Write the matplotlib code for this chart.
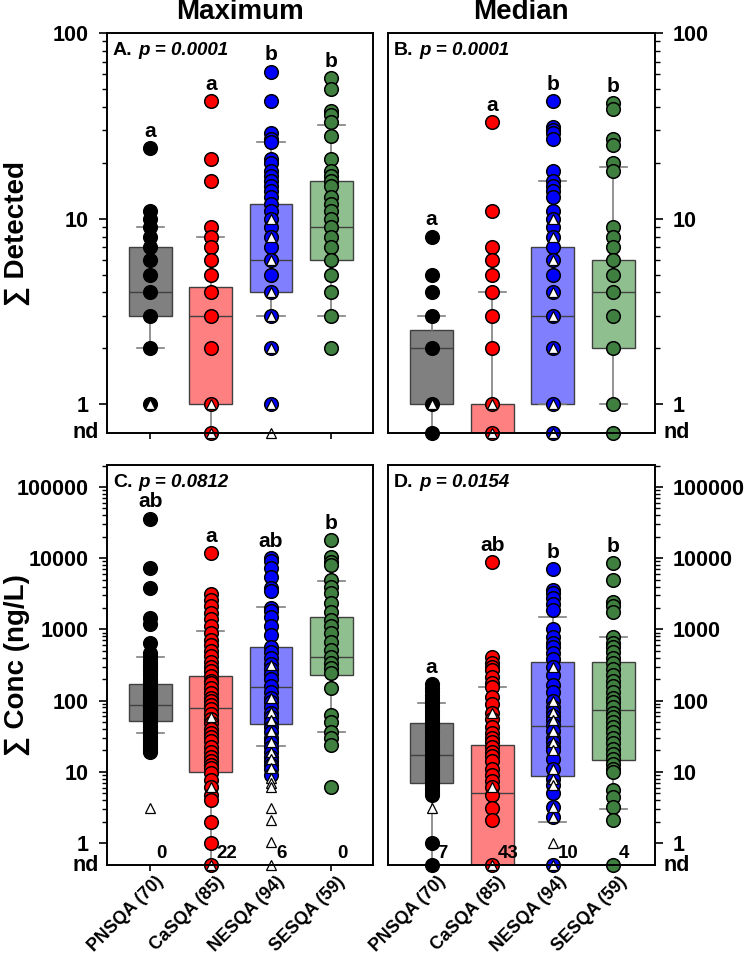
import matplotlib
matplotlib.use('Agg')
import matplotlib.pyplot as plt
import matplotlib.transforms as mtransforms

plt.rcParams['font.family'] = ['Liberation Sans', 'DejaVu Sans']
plt.rcParams['font.weight'] = 'bold'

# ---------------- data (0 = not detected, "nd") ----------------
groups = ['PNSQA (70)', 'CaSQA (85)', 'NESQA (94)', 'SESQA (59)']
circle_colors = ['#000000', '#FF0000', '#0000FF', '#3F7F3F']
box_colors = ['#808080', '#FF8080', '#8080FF', '#8FBF8F']

# Panel A: Maximum, Sum detected
A_pn = [24, 11, 10, 9, 8, 7, 6, 5, 4, 3, 2, 1]
A_ca = [43, 21, 16, 9, 8, 7, 6, 5, 4, 3, 2, 1, 0]
A_ne = [62, 43, 29, 27, 26, 21, 20, 18, 17, 16, 15, 14, 13, 12, 11, 10, 9, 8, 7, 6, 5, 4, 3, 2, 1]
A_se = [57, 50, 38, 36, 33, 28, 21, 18, 17, 16, 15, 13, 12, 11, 10, 9, 8, 7, 6, 5, 4, 3, 2]
A_tri_pn = [1]
A_tri_ca = [1, 0]
A_tri_ne = [10, 8, 6, 4, 3, 2, 1, 0]
A_tri_se = []
# box stats: whislo, q1, med, q3, whishi
A_box_pn = [2, 3, 4, 7, 9]
A_box_ca = [0, 1, 3, 4.3, 8]
A_box_ne = [3, 4, 6, 12, 26]
A_box_se = [3, 6, 9, 16, 32]
A_letters = ['a', 'a', 'b', 'b']
A_p = '0.0001'

# Panel B: Median, Sum detected
B_pn = [8, 5, 4, 3, 2, 1, 0]
B_ca = [33, 11, 7, 6, 5, 4, 3, 2, 1, 0]
B_ne = [43, 31, 30, 29, 27, 18, 16, 15, 14, 13, 11, 10, 9, 8, 7, 6, 5, 4, 3, 2, 1, 0]
B_se = [42, 39, 27, 25, 20, 18, 9, 8, 7, 6, 5, 4, 3, 2, 1, 0]
B_tri_pn = [1]
B_tri_ca = [1, 0]
B_tri_ne = [10, 8, 6, 4, 3, 2, 1, 0]
B_tri_se = []
B_box_pn = [0, 1, 2, 2.5, 3]
B_box_ca = [0, 0, 0, 1, 4]
B_box_ne = [1, 1, 3, 7, 16]
B_box_se = [1, 2, 4, 6, 19]
B_letters = ['a', 'a', 'b', 'b']
B_p = '0.0001'

# Panel C: Maximum, Sum concentration (ng/L)
C_pn = [36000, 7300, 3800, 1450, 1200, 650, 470, 420, 380, 350, 320, 300, 280, 260, 240,
        220, 200, 190, 180, 170, 160, 150, 140, 130, 120, 115, 110, 105, 100, 95, 90, 87,
        85, 80, 76, 72, 68, 65, 62, 58, 55, 52, 50, 48, 45, 42, 40, 38, 36, 34, 32, 30,
        28, 26, 24, 22, 21, 20, 19]
C_ca = [11800, 3100, 2600, 2100, 1700, 1400, 1100, 900, 700, 600, 500, 420, 350, 300, 260,
        220, 190, 175, 150, 126, 110, 100, 87, 75, 65, 55, 48, 40, 35, 31, 27, 22.5, 19,
        16.3, 14, 12.5, 11.3, 9.5, 7.7, 6.2, 4.7, 4, 2, 1, 0]
C_ne = [10000, 9000, 7300, 5500, 3800, 3500, 2000, 1800, 1500, 1100, 830, 560, 480, 400,
        330, 280, 240, 200, 160, 130, 110, 95, 80, 68, 58, 50, 42, 36, 30, 26, 22, 19, 16,
        14, 12.5, 11, 9]
C_se = [18000, 10500, 8900, 8000, 4900, 4000, 3200, 2350, 1760, 1350, 1100, 890, 670, 510,
        415, 335, 285, 245, 150, 63, 50, 36, 30, 24, 6.1]
C_tri_pn = [3.1]
C_tri_ca = [59, 6.1, 0]
C_tri_ne = [316, 110, 69, 54, 38, 26, 19, 15, 11.3, 8.2, 7, 6.1, 3.1, 2.1, 1.03, 0]
C_tri_se = []
C_box_pn = [35, 52, 87, 172, 410]
C_box_ca = [0, 10, 79, 220, 950]
C_box_ne = [23, 47, 155, 565, 2050]
C_box_se = [36, 230, 410, 1490, 4800]
C_letters = ['ab', 'a', 'ab', 'b']
C_nd = [0, 22, 6, 0]
C_p = '0.0812'

# Panel D: Median, Sum concentration (ng/L)
D_pn = [170, 150, 135, 120, 110, 100, 92, 85, 78, 72, 66, 60, 55, 50, 46, 42, 38, 35, 32,
        29, 26, 24, 22, 20, 18, 17, 16, 15, 14, 13, 12, 11, 10, 9.5, 9, 8.5, 8, 7.5, 7, 6.5,
        6, 5.5, 5, 4.7, 1, 0]
D_ca = [8900, 410, 340, 300, 270, 215, 175, 155, 113, 90, 67, 55, 43, 35, 30, 26, 22, 19,
        16.5, 14, 11, 9, 7.5, 6.1, 4.7, 3.1, 2.1, 0]
D_ne = [7100, 3600, 3200, 2800, 2300, 1900, 1000, 780, 640, 560, 460, 380, 300, 230, 165,
        130, 100, 80, 70, 60, 54, 45, 38, 30, 26, 22, 20, 15, 11, 8, 6.5, 5, 3.2, 2.3, 0]
D_se = [8600, 4900, 2400, 2100, 1750, 780, 650, 560, 480, 400, 340, 280, 230, 190, 160,
        130, 110, 95, 80, 68, 58, 50, 42, 36, 30, 25, 21, 18, 15, 13, 11, 10, 5.5, 4.4, 3.2,
        2.1, 0]
D_tri_pn = [3.1]
D_tri_ca = [67, 6.1, 0]
D_tri_ne = [300, 100, 70, 54, 38, 26, 20, 11, 8, 6.5, 3.2, 2.3, 1.0, 0]
D_tri_se = []
D_box_pn = [0, 7, 17, 48, 93]
D_box_ca = [0, 0, 5, 24, 155]
D_box_ne = [2.0, 8.7, 44, 350, 1490]
D_box_se = [3.0, 14.7, 74, 350, 790]
D_letters = ['a', 'ab', 'b', 'b']
D_nd = [7, 43, 10, 4]
D_p = '0.0154'

# ---------------- figure ----------------
W, H = 746, 955
fig = plt.figure(figsize=(W / 100, H / 100), dpi=100)


def ax_rect(l, t, r, b):
    return [l / W, 1 - b / H, (r - l) / W, (b - t) / H]


axA = fig.add_axes(ax_rect(107, 33, 373, 433))
axB = fig.add_axes(ax_rect(388, 33, 655, 433))
axC = fig.add_axes(ax_rect(107, 465, 373, 865))
axD = fig.add_axes(ax_rect(388, 465, 655, 865))

ND_TOP = 0.7
ND_BOT = 0.49
TOP_LIM = (ND_TOP, 100)
BOT_LIM = (ND_BOT, 10 ** 5.31)


def nd_map(vals, nd):
    return [nd if v == 0 else v for v in vals]


def draw_panel(ax, circles, tris, boxes, letters, label, pval, nd, ylim,
               majors, right=False, xlabels=False, ndcounts=None):
    xs = [1, 2, 3, 4]
    ax.set_yscale('log')
    # boxes
    for i, (bx, col) in enumerate(zip(boxes, box_colors)):
        b = nd_map(bx, nd)
        stats = [dict(whislo=b[0], q1=b[1], med=b[2], q3=b[3], whishi=b[4], fliers=[])]
        ax.bxp(stats, positions=[xs[i]], widths=0.71, capwidths=0.45, patch_artist=True,
               showfliers=False, manage_ticks=False, zorder=1,
               boxprops=dict(facecolor=col, edgecolor='#404040', linewidth=1.0),
               medianprops=dict(color='#404040', linewidth=1.0),
               whiskerprops=dict(color='#808080', linewidth=1.2),
               capprops=dict(color='#808080', linewidth=1.2))
    # points
    for i in range(4):
        c = nd_map(circles[i], nd)
        ax.plot([xs[i]] * len(c), c, 'o', ms=9.8, mfc=circle_colors[i], mec='black',
                mew=1.1, ls='none', zorder=3, clip_on=False)
        t = nd_map(tris[i], nd)
        if t:
            ax.plot([xs[i]] * len(t), t, '^', ms=7, mfc='white', mec='black', mew=0.9,
                    ls='none', zorder=4, clip_on=False)
        top = max(nd_map(circles[i], nd) + t)
        ax.annotate(letters[i], xy=(xs[i], top), xytext=(0, 12), textcoords='offset points',
                    ha='center', va='center', fontsize=15, fontweight='bold', zorder=5)
        if ndcounts is not None:
            ax.annotate(str(ndcounts[i]), xy=(xs[i], (nd * 1.0) ** 0.5), xytext=(4, 0),
                        textcoords='offset points', ha='left', va='center',
                        fontsize=13.5, fontweight='bold', zorder=5)
    ax.set_xlim(0.28, 4.69)
    ax.set_ylim(*ylim)
    # y ticks
    ax.set_yticks(majors)
    ax.set_yticklabels([str(m) for m in majors])
    minors = [m * 10 ** k for k in range(0, 6) for m in range(2, 10)
              if ylim[0] < m * 10 ** k < ylim[1]]
    ax.set_yticks(minors, minor=True)
    ax.yaxis.set_minor_formatter(plt.NullFormatter())
    ax.tick_params(axis='y', which='major', direction='out', length=6, width=1.2,
                   labelsize=15.5, pad=7)
    ax.tick_params(axis='y', which='minor', direction='out', length=3.5, width=1.0)
    ax.set_xticks(xs)
    ax.tick_params(axis='x', direction='out', length=4.5, width=1.2, pad=1.5)
    if right:
        ax.yaxis.tick_right()
        ax.yaxis.set_label_position('right')
        ax.annotate('nd', xy=(1, nd), xycoords=('axes fraction', 'data'), xytext=(6, 0),
                    textcoords='offset points', ha='left', va='center', fontsize=15.5,
                    fontweight='bold', annotation_clip=False)
    else:
        ax.annotate('nd', xy=(0, nd), xycoords=('axes fraction', 'data'), xytext=(-6, 0),
                    textcoords='offset points', ha='right', va='center', fontsize=15.5,
                    fontweight='bold', annotation_clip=False)
    if xlabels:
        labs = ax.set_xticklabels(groups, rotation=45, ha='right', rotation_mode='anchor',
                                  fontsize=12.8, fontweight='bold')
        shift = mtransforms.ScaledTranslation(5 / 100, 0, fig.dpi_scale_trans)
        for lab in labs:
            lab.set_transform(lab.get_transform() + shift)
    else:
        ax.set_xticklabels([])
    for sp in ax.spines.values():
        sp.set_linewidth(1.4)
        sp.set_zorder(6)
    # panel label
    t1 = ax.text(0.022, 0.957, label, transform=ax.transAxes, ha='left', va='center',
                 fontsize=14, fontweight='bold', zorder=7)
    ax.annotate('p = ' + pval, xy=(1, 0.5), xycoords=t1, xytext=(4, 0),
                textcoords='offset points', ha='left', va='center', fontsize=13.5,
                fontweight='bold', fontstyle='italic', zorder=7)


draw_panel(axA, [A_pn, A_ca, A_ne, A_se], [A_tri_pn, A_tri_ca, A_tri_ne, A_tri_se],
           [A_box_pn, A_box_ca, A_box_ne, A_box_se], A_letters, 'A.', A_p, ND_TOP,
           TOP_LIM, [1, 10, 100])
draw_panel(axB, [B_pn, B_ca, B_ne, B_se], [B_tri_pn, B_tri_ca, B_tri_ne, B_tri_se],
           [B_box_pn, B_box_ca, B_box_ne, B_box_se], B_letters, 'B.', B_p, ND_TOP,
           TOP_LIM, [1, 10, 100], right=True)
draw_panel(axC, [C_pn, C_ca, C_ne, C_se], [C_tri_pn, C_tri_ca, C_tri_ne, C_tri_se],
           [C_box_pn, C_box_ca, C_box_ne, C_box_se], C_letters, 'C.', C_p, ND_BOT,
           BOT_LIM, [1, 10, 100, 1000, 10000, 100000], xlabels=True, ndcounts=C_nd)
draw_panel(axD, [D_pn, D_ca, D_ne, D_se], [D_tri_pn, D_tri_ca, D_tri_ne, D_tri_se],
           [D_box_pn, D_box_ca, D_box_ne, D_box_se], D_letters, 'D.', D_p, ND_BOT,
           BOT_LIM, [1, 10, 100, 1000, 10000, 100000], right=True, xlabels=True,
           ndcounts=D_nd)

fig.text(240 / W, 1 - 12 / H, 'Maximum', ha='center', va='center', fontsize=20,
         fontweight='bold')
fig.text(521 / W, 1 - 12 / H, 'Median', ha='center', va='center', fontsize=20,
         fontweight='bold')
fig.text(17 / W, 1 - 233 / H, '\u2211 Detected', ha='center', va='center', rotation=90,
         fontsize=20, fontweight='bold')
fig.text(17 / W, 1 - 665 / H, '\u2211 Conc (ng/L)', ha='center', va='center', rotation=90,
         fontsize=20, fontweight='bold')

fig.savefig('out.png', dpi=100)
